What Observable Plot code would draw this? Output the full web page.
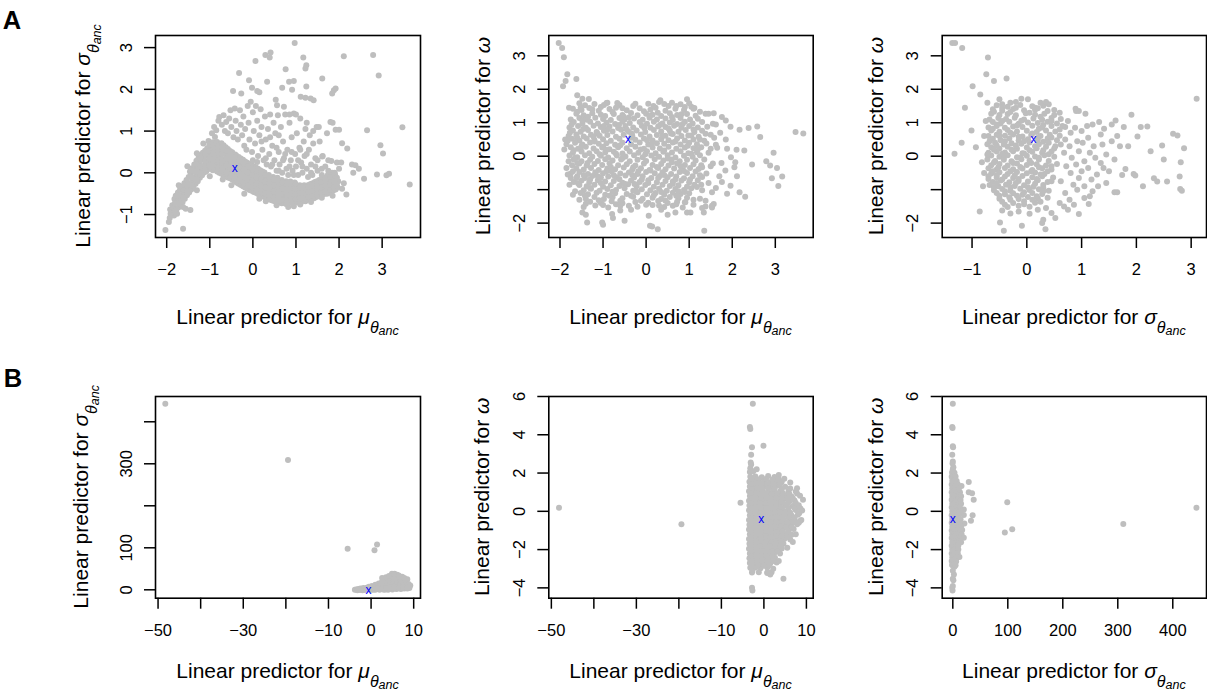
<!DOCTYPE html>
<html><head><meta charset="utf-8">
<script src="https://cdn.jsdelivr.net/npm/d3@7"></script>
<script src="https://cdn.jsdelivr.net/npm/@observablehq/plot@0.6"></script>
<style>
body{margin:0;background:#fff;overflow:hidden}
#wrap{position:relative;width:1207px;height:696px}
#wrap svg{position:absolute;left:0;top:0}
</style></head><body><div id="wrap"></div>
<script>
// ---------- DATA (flat x,y pairs) ----------
// Row A, panel 1: mu (x) vs sigma (y)
const A1_mu_sigma = [
-2.03,-1.37,-1.62,-1.34,-1.95,-1.18,-1.76,-0.98,-1.56,-0.86,-1.45,-0.89,
-1.93,-1.08,-1.92,-0.88,-1.88,-0.97,-1.87,-0.78,-1.83,-1.02,-1.84,-0.84,-1.82,-0.63,
-1.78,-0.91,-1.77,-0.71,-1.79,-0.55,-1.73,-0.83,-1.72,-0.64,-1.74,-0.47,
-1.68,-0.77,-1.67,-0.57,-1.69,-0.4,-1.63,-0.7,-1.62,-0.5,-1.64,-0.33,
-1.58,-0.62,-1.57,-0.44,-1.59,-0.25,-1.53,-0.54,-1.52,-0.37,-1.54,-0.17,
-1.48,-0.47,-1.47,-0.3,-1.49,-0.1,-1.46,0.03,-1.43,-0.4,-1.42,-0.22,-1.44,-0.02,-1.41,0.11,
-1.38,-0.33,-1.37,-0.14,-1.39,0.04,-1.36,0.2,-1.33,-0.26,-1.32,-0.07,-1.34,0.13,-1.31,0.29,
-1.28,-0.2,-1.27,0.0,-1.29,0.19,-1.26,0.36,-1.23,-0.12,-1.22,0.07,-1.24,0.26,-1.21,0.43,
-1.18,-0.06,-1.17,0.13,-1.19,0.31,-1.16,0.48,-1.13,0.01,-1.12,0.19,-1.14,0.36,-1.11,0.53,
-1.08,0.04,-1.07,0.23,-1.09,0.41,-1.06,0.59,-1.03,0.09,-1.02,0.26,-1.04,0.44,-1.01,0.61,-1.03,0.76,
-0.98,0.12,-0.97,0.29,-0.99,0.46,-0.96,0.63,-0.93,0.06,-0.92,0.23,-0.94,0.41,-0.91,0.57,-0.93,0.73,
-0.88,0.09,-0.87,0.31,-0.89,0.49,-0.86,0.67,-0.88,0.86,-0.83,0.03,-0.82,0.21,-0.84,0.38,-0.81,0.56,-0.83,0.74,
-0.78,0.0,-0.77,0.16,-0.79,0.33,-0.76,0.51,-0.78,0.69,-0.73,-0.02,-0.72,0.18,-0.74,0.36,-0.71,0.54,-0.73,0.71,
-0.68,-0.05,-0.67,0.13,-0.69,0.31,-0.66,0.48,-0.68,0.66,-0.63,-0.08,-0.62,0.09,-0.64,0.26,-0.61,0.43,-0.63,0.61,
-0.58,-0.11,-0.57,0.05,-0.59,0.22,-0.56,0.39,-0.58,0.57,-0.53,-0.13,-0.52,0.03,-0.54,0.19,-0.51,0.36,-0.53,0.52,
-0.48,-0.16,-0.47,0.0,-0.49,0.16,-0.46,0.32,-0.48,0.49,-0.43,-0.19,-0.42,-0.04,-0.43,0.11,-0.44,0.28,-0.41,0.44,
-0.38,-0.23,-0.37,-0.07,-0.39,0.08,-0.36,0.26,-0.38,0.41,-0.33,-0.26,-0.32,-0.1,-0.34,0.06,-0.31,0.22,-0.33,0.38,
-0.28,-0.29,-0.27,-0.14,-0.29,0.01,-0.26,0.18,-0.28,0.34,-0.23,-0.32,-0.22,-0.17,-0.24,-0.01,-0.21,0.15,-0.23,0.31,
-0.18,-0.35,-0.17,-0.2,-0.19,-0.04,-0.16,0.11,-0.18,0.27,-0.13,-0.38,-0.12,-0.22,-0.14,-0.07,-0.11,0.08,-0.13,0.24,
-0.08,-0.41,-0.07,-0.25,-0.09,-0.1,-0.06,0.05,-0.08,0.21,-0.03,-0.43,-0.02,-0.28,-0.04,-0.12,-0.01,0.03,-0.03,0.18,
0.02,-0.46,0.03,-0.3,0.01,-0.15,0.04,0.0,0.02,0.16,0.07,-0.48,0.08,-0.33,0.06,-0.18,0.09,-0.02,0.07,0.13,
0.12,-0.51,0.13,-0.35,0.11,-0.2,0.14,-0.05,0.12,0.1,0.17,-0.53,0.18,-0.38,0.16,-0.23,0.19,-0.07,0.17,0.06,
0.22,-0.56,0.23,-0.4,0.21,-0.25,0.24,-0.1,0.22,0.03,0.27,-0.58,0.28,-0.43,0.26,-0.28,0.29,-0.12,0.27,0.01,
0.32,-0.61,0.33,-0.45,0.31,-0.3,0.34,-0.15,0.37,-0.63,0.38,-0.48,0.36,-0.33,0.39,-0.18,0.37,-0.05,
0.42,-0.65,0.43,-0.5,0.41,-0.35,0.44,-0.2,0.47,-0.67,0.48,-0.52,0.46,-0.38,0.49,-0.23,0.47,-0.1,
0.52,-0.69,0.53,-0.54,0.51,-0.4,0.54,-0.25,0.57,-0.7,0.58,-0.55,0.56,-0.41,0.59,-0.27,0.57,-0.12,
0.62,-0.71,0.63,-0.57,0.61,-0.42,0.64,-0.28,0.67,-0.73,0.68,-0.58,0.66,-0.44,0.69,-0.3,0.67,-0.17,
0.72,-0.72,0.73,-0.58,0.71,-0.45,0.74,-0.32,0.77,-0.75,0.78,-0.6,0.76,-0.47,0.79,-0.33,0.77,-0.2,
0.82,-0.82,0.83,-0.61,0.81,-0.47,0.84,-0.34,0.87,-0.71,0.88,-0.57,0.86,-0.43,0.89,-0.3,0.87,-0.21,
0.92,-0.73,0.93,-0.59,0.91,-0.45,0.94,-0.33,0.97,-0.7,0.98,-0.56,0.96,-0.44,0.99,-0.32,0.97,-0.23,
1.02,-0.71,1.03,-0.58,1.01,-0.46,1.04,-0.34,1.07,-0.68,1.08,-0.55,1.06,-0.42,1.09,-0.3,
1.12,-0.7,1.13,-0.58,1.11,-0.45,1.14,-0.35,1.17,-0.66,1.18,-0.54,1.16,-0.42,1.19,-0.3,
1.22,-0.68,1.23,-0.56,1.21,-0.44,1.24,-0.34,1.27,-0.64,1.28,-0.52,1.26,-0.4,1.29,-0.29,
1.32,-0.62,1.33,-0.5,1.31,-0.38,1.34,-0.27,1.37,-0.6,1.38,-0.48,1.36,-0.36,1.39,-0.25,
1.42,-0.61,1.43,-0.48,1.41,-0.35,1.44,-0.22,1.47,-0.58,1.48,-0.45,1.46,-0.32,1.49,-0.2,
1.52,-0.56,1.53,-0.42,1.51,-0.3,1.54,-0.17,1.57,-0.55,1.58,-0.42,1.56,-0.28,1.59,-0.15,
1.62,-0.52,1.63,-0.4,1.61,-0.26,1.64,-0.12,1.67,-0.5,1.68,-0.38,1.66,-0.24,
1.72,-0.5,1.73,-0.36,1.71,-0.2,1.74,-0.05,1.77,-0.48,1.78,-0.34,1.76,-0.18,
1.82,-0.46,1.83,-0.32,1.81,-0.15,1.84,0.0,1.87,-0.42,1.88,-0.28,1.86,-0.12,
1.92,-0.4,1.93,-0.22,1.91,-0.05,1.97,-0.35,1.98,-0.2,
-0.95,0.95,-0.9,1.1,-0.85,1.02,-0.8,1.25,-0.78,1.34,-0.72,1.15,-0.68,1.38,-0.65,1.0,-0.62,1.22,-0.58,0.95,
-0.55,1.3,-0.52,1.5,-0.5,1.1,-0.45,0.85,-0.42,1.54,-0.4,1.25,-0.38,1.0,-0.35,0.8,-0.3,1.5,-0.28,1.15,
-0.25,0.9,-0.22,1.35,-0.2,0.65,-0.18,1.05,-0.15,0.55,-0.12,1.6,-0.1,1.2,-0.08,0.8,-0.05,1.7,-0.02,0.5,
0.0,1.45,0.02,1.0,0.05,0.7,0.07,1.6,0.1,1.25,0.12,0.4,0.15,0.9,0.18,1.52,0.2,1.1,0.22,0.55,0.25,0.3,
0.28,1.35,0.3,0.8,0.32,0.2,0.35,1.05,0.38,0.45,0.4,1.4,0.42,0.15,0.45,0.65,0.48,1.2,0.5,0.3,0.52,0.95,
0.55,0.05,0.58,1.38,0.6,0.5,0.62,0.2,0.65,1.1,0.68,0.0,0.7,0.75,0.72,0.35,0.75,1.4,0.78,0.1,0.8,0.55,
0.82,-0.05,0.85,1.2,0.88,0.3,0.9,0.85,0.92,0.05,0.95,1.42,0.98,0.45,1.0,0.15,1.02,0.95,1.05,-0.05,
1.08,0.6,1.1,1.3,1.12,0.25,1.15,0.0,1.18,0.75,1.2,0.4,1.22,1.05,1.25,0.1,1.28,-0.1,1.3,0.55,1.32,0.9,
1.35,0.2,1.38,-0.05,1.4,0.7,1.45,0.35,1.48,1.1,1.5,0.05,1.55,0.75,1.6,-0.05,1.62,0.4,1.68,0.15,1.72,0.95,
1.75,0.05,1.82,0.28,1.85,1.2,1.9,0.0,1.95,0.25,2.0,0.1,2.05,0.25,2.07,0.71,2.19,0.58,
0.3,0.35,0.45,0.2,0.6,0.05,0.7,0.3,0.85,0.15,0.95,-0.05,1.05,0.3,1.15,0.15,1.25,0.45,1.35,0.0,1.45,0.15,
0.55,0.6,0.75,0.45,0.9,0.5,1.1,0.55,0.2,0.75,0.4,0.85,0.6,0.9,1.5,0.3,1.6,0.1,1.75,0.3,
0.97,3.11,0.29,2.82,0.41,2.88,0.39,2.76,0.06,2.68,-0.32,2.39,-0.09,2.22,-0.46,1.96,-0.27,1.9,-0.02,2.04,
0.1,1.96,0.15,1.93,0.33,2.18,0.76,2.48,0.84,2.18,0.95,2.2,1.17,2.76,1.24,2.58,1.22,2.5,1.61,2.26,2.11,2.79,
2.79,2.82,2.92,2.33,1.24,2.07,0.91,1.99,0.68,2.04,1.88,1.98,1.92,2.02,1.84,1.9,1.11,1.82,1.22,1.8,1.34,1.78,
1.41,1.74,0.53,1.75,0.56,1.62,0.72,1.58,1.8,1.22,1.92,1.03,2.0,1.03,2.65,1.02,3.47,1.09,3.64,-0.28,
2.96,0.66,3.02,0.46,2.88,-0.04,3.1,-0.06,3.16,-0.02,2.58,-0.14,2.3,0.2,2.38,0.18,2.33,0.0,2.46,0.1,
2.17,-0.52,2.07,-0.38,2.11,-0.25,1.61,0.39,1.53,1.1,1.4,1.0,1.25,1.2,1.0,1.4,0.85,1.4
];
// Row A, panel 1: more points read inside and along the edges of the dense band
const A1_band_fill = [
-1.91,-0.98,-1.81,-0.93,-1.81,-0.73,-1.71,-0.73,-1.71,-0.55,-1.61,-0.6,-1.61,-0.41,-1.51,-0.45,-1.51,-0.27,
-1.41,-0.31,-1.41,-0.12,-1.41,0.05,-1.31,-0.16,-1.31,0.03,-1.31,0.21,-1.21,-0.02,-1.21,0.16,-1.21,0.34,
-1.11,0.1,-1.11,0.28,-1.11,0.45,-1.01,0.17,-1.01,0.35,-1.01,0.52,-1.01,0.68,-0.91,0.14,-0.91,0.32,-0.91,0.49,-0.91,0.65,
-0.81,0.12,-0.81,0.3,-0.81,0.47,-0.81,0.65,-0.71,0.08,-0.71,0.27,-0.71,0.45,-0.71,0.62,-0.61,0.0,-0.61,0.18,-0.61,0.35,-0.61,0.52,
-0.51,-0.05,-0.51,0.11,-0.51,0.28,-0.51,0.44,-0.41,-0.12,-0.41,0.2,-0.41,0.36,-0.31,-0.18,-0.31,-0.02,-0.31,0.14,-0.31,0.3,
-0.21,-0.25,-0.21,-0.09,-0.21,0.07,-0.21,0.23,-0.11,-0.3,-0.11,-0.15,-0.11,0.0,-0.11,0.16,-0.01,-0.36,-0.01,-0.2,-0.01,-0.05,-0.01,0.1,
0.09,-0.4,0.09,-0.25,0.09,-0.1,0.09,0.05,0.19,-0.45,0.19,-0.3,0.19,-0.15,0.19,0.0,0.29,-0.5,0.29,-0.35,0.29,-0.2,0.29,-0.05,
0.39,-0.55,0.39,-0.4,0.39,-0.25,0.39,-0.11,0.49,-0.6,0.49,-0.45,0.49,-0.3,0.49,-0.16,0.59,-0.62,0.59,-0.48,0.59,-0.34,0.59,-0.2,
0.69,-0.65,0.69,-0.51,0.69,-0.37,0.69,-0.23,0.79,-0.67,0.79,-0.53,0.79,-0.4,0.79,-0.26,0.89,-0.64,0.89,-0.5,0.89,-0.36,0.89,-0.25,
0.99,-0.63,0.99,-0.5,0.99,-0.38,0.99,-0.27,1.09,-0.62,1.09,-0.48,1.09,-0.36,1.19,-0.6,1.19,-0.48,1.19,-0.36,
1.29,-0.58,1.29,-0.46,1.29,-0.34,1.39,-0.54,1.39,-0.42,1.39,-0.3,1.49,-0.52,1.49,-0.38,1.49,-0.26,
1.59,-0.48,1.59,-0.35,1.59,-0.22,1.69,-0.44,1.69,-0.31,1.69,-0.15,1.79,-0.41,1.79,-0.26,1.79,-0.1,1.89,-0.35,1.89,-0.2,1.95,-0.3,1.95,-0.12,
0.3,-0.68,0.55,-0.78,1.1,-0.76,1.35,-0.7,-0.2,-0.5,-0.5,-0.3,-1.0,-0.08,-1.3,-0.42,-1.62,-0.82,-1.15,0.7,
-1.3,0.47,-1.52,0.16,0.0,0.3,0.1,0.26,-0.7,-0.16,1.6,-0.6,1.85,-0.55,0.15,-0.62,0.95,-0.8,-1.72,-0.3
];
// Row A, panel 2: mu (x) vs omega (y)
const A2_mu_omega = [
-1.55,1.58,-1.42,1.52,-1.2,1.56,-0.9,1.6,-0.62,1.53,-0.3,1.5,0.05,1.57,0.3,1.62,0.52,1.5,0.8,1.55,1.05,1.48,
-1.7,1.42,-1.5,1.38,-1.32,1.44,-1.1,1.36,-0.85,1.41,-0.7,1.45,-0.45,1.37,-0.15,1.43,0.1,1.39,0.22,1.45,0.45,1.36,0.68,1.42,0.88,1.38,1.12,1.44,
-1.62,1.27,-1.45,1.22,-1.25,1.28,-1.05,1.24,-0.95,1.2,-0.75,1.26,-0.55,1.23,-0.35,1.29,-0.2,1.22,0.0,1.27,0.15,1.24,0.35,1.2,0.55,1.28,0.72,1.23,0.95,1.26,1.15,1.21,1.38,1.27,
-1.75,1.1,-1.55,1.14,-1.38,1.09,-1.18,1.15,-1.0,1.11,-0.82,1.08,-0.62,1.14,-0.5,1.1,-0.28,1.13,-0.08,1.09,0.08,1.15,0.25,1.1,0.45,1.13,0.62,1.08,0.8,1.14,1.02,1.1,1.2,1.12,
-1.68,1.02,-1.48,0.97,-1.3,1.03,-1.12,0.98,-0.92,1.01,-0.72,0.96,-0.55,1.03,-0.38,0.99,-0.15,1.02,0.02,0.97,0.18,1.03,0.38,0.98,0.55,1.01,0.72,0.96,0.9,1.03,1.08,0.98,1.3,1.02,1.55,0.97,
-1.78,0.86,-1.58,0.9,-1.4,0.85,-1.22,0.91,-1.05,0.87,-0.85,0.89,-0.65,0.84,-0.48,0.9,-0.3,0.86,-0.1,0.91,0.1,0.85,0.28,0.89,0.45,0.87,0.65,0.91,0.82,0.85,1.0,0.9,1.2,0.86,1.42,0.88,
-1.7,0.77,-1.52,0.73,-1.35,0.78,-1.15,0.72,-0.98,0.76,-0.78,0.74,-0.58,0.79,-0.4,0.73,-0.22,0.77,-0.02,0.72,0.18,0.78,0.35,0.74,0.55,0.76,0.75,0.73,0.92,0.78,1.12,0.72,1.3,0.76,
-1.8,0.6,-1.62,0.65,-1.45,0.59,-1.28,0.64,-1.08,0.61,-0.9,0.63,-0.7,0.58,-0.52,0.64,-0.32,0.6,-0.12,0.65,0.08,0.59,0.25,0.63,0.45,0.61,0.62,0.66,0.82,0.6,1.05,0.62,1.22,0.58,1.5,0.64,
-1.72,0.52,-1.55,0.47,-1.38,0.53,-1.2,0.48,-1.0,0.51,-0.82,0.46,-0.62,0.52,-0.25,0.49,-0.05,0.53,0.15,0.47,0.35,0.51,0.52,0.48,0.72,0.53,0.9,0.47,1.1,0.5,1.35,0.46,
-1.85,0.36,-1.65,0.4,-1.48,0.35,-1.3,0.41,-1.1,0.37,-0.92,0.39,-0.72,0.34,-0.55,0.4,-0.35,0.36,-0.15,0.41,0.05,0.35,0.25,0.39,0.42,0.37,0.62,0.41,0.8,0.35,1.0,0.4,1.18,0.36,1.4,0.38,1.62,0.34,
-1.75,0.27,-1.58,0.22,-1.4,0.28,-1.22,0.23,-1.02,0.26,-0.85,0.21,-0.65,0.27,-0.45,0.24,-0.25,0.28,-0.05,0.22,0.15,0.26,0.32,0.23,0.52,0.28,0.7,0.22,0.9,0.26,1.1,0.24,1.28,0.27,
-1.7,0.1,-1.5,0.14,-1.32,0.09,-1.15,0.15,-0.95,0.11,-0.75,0.13,-0.55,0.08,-0.38,0.14,-0.18,0.1,0.02,0.15,0.22,0.09,0.4,0.13,0.6,0.11,0.8,0.15,0.98,0.09,1.18,0.12,1.45,0.1,
-1.78,0.02,-1.6,-0.03,-1.42,0.03,-1.25,-0.02,-1.05,0.01,-0.88,-0.04,-0.68,0.02,-0.48,-0.01,-0.28,0.03,-0.08,-0.03,0.12,0.02,0.3,-0.02,0.5,0.03,0.68,-0.04,0.88,0.01,1.08,-0.02,1.25,0.03,
-1.68,-0.1,-1.5,-0.15,-1.3,-0.11,-1.12,-0.14,-0.95,-0.09,-0.78,-0.13,-0.58,-0.1,-0.38,-0.15,-0.2,-0.11,0.0,-0.14,0.2,-0.09,0.4,-0.13,0.58,-0.1,0.78,-0.15,0.95,-0.11,1.15,-0.13,1.35,-0.1,
-1.72,-0.27,-1.55,-0.22,-1.38,-0.28,-1.2,-0.23,-1.02,-0.26,-0.85,-0.21,-0.65,-0.27,-0.45,-0.24,-0.25,-0.28,-0.05,-0.22,0.15,-0.26,0.35,-0.23,0.52,-0.28,0.72,-0.22,0.9,-0.26,1.1,-0.24,1.28,-0.27,1.55,-0.22,
-1.62,-0.36,-1.45,-0.4,-1.28,-0.35,-1.1,-0.41,-0.9,-0.37,-0.72,-0.39,-0.52,-0.34,-0.32,-0.4,-0.12,-0.36,0.08,-0.41,0.28,-0.35,0.45,-0.39,0.65,-0.37,0.85,-0.41,1.02,-0.35,1.22,-0.38,
-1.75,-0.52,-1.55,-0.47,-1.35,-0.53,-1.18,-0.48,-1.0,-0.51,-0.8,-0.46,-0.6,-0.52,-0.4,-0.49,-0.2,-0.53,0.0,-0.47,0.2,-0.51,0.38,-0.48,0.58,-0.53,0.78,-0.47,0.95,-0.5,1.15,-0.46,1.4,-0.52,
-1.6,-0.6,-1.42,-0.65,-1.25,-0.59,-1.05,-0.64,-0.88,-0.61,-0.68,-0.63,-0.48,-0.58,-0.28,-0.64,-0.08,-0.6,0.12,-0.65,0.32,-0.59,0.5,-0.63,0.7,-0.61,0.88,-0.66,1.08,-0.6,1.3,-0.62,
-1.68,-0.77,-1.5,-0.73,-1.32,-0.78,-1.12,-0.72,-0.95,-0.76,-0.75,-0.74,-0.55,-0.79,-0.35,-0.73,-0.15,-0.77,0.05,-0.72,0.25,-0.78,0.45,-0.74,0.62,-0.76,0.82,-0.73,1.0,-0.78,1.2,-0.72,
-1.55,-0.86,-1.38,-0.9,-1.2,-0.85,-1.0,-0.91,-0.82,-0.87,-0.62,-0.89,-0.42,-0.84,-0.22,-0.9,-0.02,-0.86,0.18,-0.91,0.38,-0.85,0.55,-0.89,0.75,-0.87,0.95,-0.91,1.12,-0.85,
-1.45,-1.02,-1.28,-0.97,-1.08,-1.03,-0.9,-0.98,-0.7,-1.01,-0.5,-0.96,-0.3,-1.03,-0.1,-0.99,0.1,-1.02,0.3,-0.97,0.48,-1.03,0.68,-0.98,0.88,-1.01,1.05,-0.96,1.3,-1.02,
-1.52,-1.1,-1.35,-1.14,-1.15,-1.09,-0.95,-1.15,-0.72,-1.11,-0.45,-1.13,-0.2,-1.08,0.02,-1.14,0.22,-1.1,0.42,-1.15,0.62,-1.09,0.8,-1.13,1.0,-1.11,
-1.4,-1.27,-1.2,-1.22,-0.98,-1.28,-0.78,-1.23,-0.55,-1.26,-0.3,-1.21,-0.08,-1.27,0.15,-1.24,0.35,-1.28,0.55,-1.22,0.75,-1.26,0.95,-1.24,1.25,-1.27,
-1.3,-1.36,-1.05,-1.4,-0.8,-1.35,-0.55,-1.41,-0.25,-1.37,0.05,-1.39,0.28,-1.34,0.5,-1.4,0.72,-1.36,0.9,-1.38,
-1.45,-1.52,-1.18,-1.47,-0.88,-1.53,-0.6,-1.48,-0.2,-1.51,0.15,-1.46,0.42,-1.52,0.62,-1.48,0.85,-1.53,1.38,-1.5,
-2.03,3.38,-1.95,3.23,-1.91,2.96,-1.83,2.45,-1.87,2.25,-1.93,2.09,-1.62,2.31,-1.6,1.82,-1.48,1.72,-1.33,1.71,
-1.79,1.45,-0.92,1.59,-0.67,1.59,0.33,1.67,0.95,1.7,0.6,1.6,1.1,1.42,1.45,1.27,1.57,1.28,1.76,1.17,1.85,1.07,
1.96,0.88,1.62,0.95,1.72,0.7,1.85,0.5,2.17,0.79,2.38,0.84,2.58,0.89,2.65,0.57,3.47,0.72,3.65,0.68,2.96,0.1,
2.79,-0.15,2.88,-0.28,3.04,-0.35,3.16,-0.61,2.92,-0.66,3.07,-0.89,2.46,-0.25,2.3,-1.21,2.17,-1.08,2.28,0.17,
2.1,0.19,1.88,0.22,1.97,-0.03,2.07,-0.18,2.05,-0.33,2.11,-0.6,1.96,-0.88,1.84,-0.43,1.76,-0.77,1.88,-1.12,
1.53,-1.08,1.57,-1.43,1.53,-1.53,1.7,-0.6,1.65,0.25,1.75,-0.2,1.62,-0.95,1.45,-0.8,1.5,-0.3,1.58,0.55,
-1.85,-0.35,-1.82,-0.55,-1.78,-0.85,-1.65,-1.05,-1.55,-1.3,-1.48,-1.68,-1.4,-1.75,-1.37,-1.98,-1.02,-1.98,
-1.0,-2.05,-0.79,-1.73,-0.77,-1.85,-0.5,-1.93,0.06,-1.78,0.09,-2.08,0.14,-2.1,0.27,-2.18,1.35,-2.23,0.68,-1.68,
0.91,-1.38,0.95,-1.68,1.03,-1.68,1.34,-1.68,1.38,-1.33,1.53,-1.48,-1.7,-1.15,-1.6,-0.2,-1.9,0.2,-1.88,0.5,
1.3,-1.55,-0.35,-1.6,-0.6,-1.62,0.35,-1.6,0.5,-1.75,1.1,-1.45
];
// Row A, panel 2: more points read inside the dense cloud
const A2_cloud_fill = [
-1.6,1.33,-1.35,1.18,-1.05,1.47,-0.78,1.32,-0.4,1.16,-0.05,1.34,0.27,1.3,0.6,1.17,0.9,1.47,1.25,1.33,
-1.73,0.95,-1.46,0.81,-1.13,0.68,-0.9,0.8,-0.63,0.93,-0.33,0.67,-0.04,0.84,0.33,0.94,0.58,0.68,0.85,0.96,1.1,0.8,1.38,0.67,
-1.82,0.46,-1.5,0.3,-1.2,0.44,-0.92,0.19,-0.6,0.33,-0.35,0.55,-0.13,0.2,0.15,0.42,0.42,0.17,0.68,0.44,0.97,0.31,1.25,0.5,1.5,0.22,
-1.65,-0.05,-1.36,-0.2,-1.08,0.06,-0.82,-0.32,-0.55,-0.06,-0.3,-0.33,-0.02,0.06,0.25,-0.32,0.5,-0.07,0.8,-0.3,1.05,0.07,1.3,-0.33,
-1.7,-0.45,-1.45,-0.56,-1.12,-0.6,-0.92,-0.45,-0.62,-0.69,-0.32,-0.56,-0.1,-0.7,0.1,-0.43,0.42,-0.56,0.68,-0.7,0.88,-0.44,1.25,-0.57,
-1.58,-0.81,-1.3,-0.95,-1.05,-0.8,-0.78,-1.06,-0.5,-0.82,-0.22,-1.06,0.05,-0.8,0.35,-1.07,0.62,-0.82,0.9,-1.07,1.18,-0.92,
-1.42,-1.18,-1.1,-1.32,-0.85,-1.18,-0.6,-1.33,-0.35,-1.18,-0.12,-1.33,0.18,-1.17,0.45,-1.33,0.7,-1.18,1.1,-1.3,
-1.4,-1.42,-1.0,-1.46,-0.7,-1.44,-0.4,-1.48,0.0,-1.45,0.3,-1.47,0.7,-1.44,
-1.52,1.45,-1.25,1.4,-0.98,1.53,-0.55,1.43,-0.25,1.57,0.17,1.5,0.42,1.56,0.7,1.5,1.0,1.58,
-1.77,0.7,-1.6,0.55,-1.68,0.18,-1.8,-0.15,-1.62,-0.65,-1.75,-0.65,
-1.48,1.07,-1.22,0.58,-0.98,0.9,-0.7,0.07,-0.45,0.8,-0.18,-0.45,0.08,1.2,0.38,0.6,0.6,-0.18,0.82,1.25,1.02,-0.7,1.2,0.2,
-1.3,-0.7,-1.0,0.28,-0.75,-0.57,-0.52,1.18,-0.27,-0.83,0.02,0.48,0.28,-0.65,0.52,0.83,0.75,-1.05,0.98,0.62,1.28,-0.85
];
// Row A, panel 3: sigma (x) vs omega (y)
const A3_sigma_omega = [
-0.55,1.52,-0.35,1.48,-0.12,1.53,0.1,1.49,0.3,1.51,
-0.62,1.4,-0.45,1.36,-0.25,1.41,-0.05,1.37,0.15,1.39,0.38,1.35,
-0.65,1.27,-0.5,1.23,-0.35,1.26,-0.2,1.22,-0.02,1.28,0.15,1.24,0.32,1.27,0.5,1.23,
-0.68,1.1,-0.52,1.14,-0.38,1.11,-0.22,1.15,-0.05,1.1,0.12,1.13,0.28,1.09,0.45,1.14,0.62,1.11,
-0.62,1.02,-0.48,0.98,-0.32,1.03,-0.15,0.97,0.02,1.01,0.2,0.99,0.38,1.03,0.55,0.98,
-0.7,0.86,-0.55,0.9,-0.4,0.85,-0.25,0.89,-0.08,0.87,0.1,0.91,0.28,0.86,0.45,0.9,0.7,0.87,
-0.65,0.77,-0.5,0.73,-0.35,0.78,-0.18,0.74,0.0,0.76,0.18,0.72,0.35,0.77,0.52,0.74,
-0.7,0.6,-0.55,0.64,-0.4,0.61,-0.25,0.65,-0.08,0.59,0.08,0.63,0.25,0.6,0.42,0.64,0.6,0.61,
-0.62,0.52,-0.48,0.48,-0.32,0.53,-0.15,0.47,0.02,0.51,0.2,0.49,0.38,0.53,0.55,0.48,
-0.72,0.36,-0.58,0.4,-0.42,0.35,-0.28,0.39,-0.1,0.37,0.05,0.41,0.22,0.36,0.4,0.4,0.62,0.35,
-0.65,0.27,-0.5,0.23,-0.35,0.28,-0.18,0.22,0.0,0.26,0.18,0.24,0.35,0.28,0.5,0.23,
-0.7,0.1,-0.55,0.14,-0.4,0.11,-0.25,0.15,-0.08,0.09,0.1,0.13,0.28,0.1,0.45,0.14,
-0.65,0.02,-0.5,-0.02,-0.35,0.03,-0.18,-0.03,0.0,0.01,0.15,-0.01,0.32,0.03,0.5,-0.02,
-0.72,-0.1,-0.58,-0.14,-0.42,-0.11,-0.28,-0.15,-0.1,-0.09,0.05,-0.13,0.22,-0.1,0.4,-0.14,
-0.65,-0.27,-0.5,-0.23,-0.35,-0.28,-0.18,-0.22,0.0,-0.26,0.18,-0.24,0.35,-0.28,0.55,-0.23,
-0.7,-0.36,-0.55,-0.4,-0.4,-0.35,-0.25,-0.39,-0.08,-0.37,0.1,-0.41,0.28,-0.36,0.45,-0.4,
-0.65,-0.52,-0.5,-0.48,-0.35,-0.53,-0.18,-0.47,0.0,-0.51,0.15,-0.49,0.32,-0.53,
-0.7,-0.6,-0.55,-0.64,-0.4,-0.61,-0.25,-0.65,-0.08,-0.59,0.1,-0.63,0.28,-0.6,0.48,-0.64,
-0.62,-0.77,-0.48,-0.73,-0.32,-0.78,-0.15,-0.74,0.02,-0.76,0.2,-0.72,0.38,-0.77,
-0.68,-0.86,-0.52,-0.9,-0.38,-0.85,-0.22,-0.89,-0.05,-0.87,0.12,-0.91,0.3,-0.86,
-0.6,-1.02,-0.45,-0.98,-0.3,-1.03,-0.12,-0.97,0.05,-1.01,0.22,-0.99,0.4,-1.03,
-0.55,-1.1,-0.4,-1.14,-0.25,-1.11,-0.08,-1.15,0.1,-1.1,0.28,-1.13,
-0.5,-1.27,-0.32,-1.23,-0.15,-1.28,0.02,-1.22,0.2,-1.26,0.38,-1.24,
-0.45,-1.36,-0.25,-1.4,-0.05,-1.35,0.15,-1.39,-0.35,-1.52,-0.15,-1.48,0.05,-1.51,
0.6,1.3,0.65,0.9,0.7,0.5,0.68,0.1,0.72,-0.3,0.62,-0.75,0.7,-1.1,0.6,-1.4,0.75,1.05,0.8,0.7,0.78,0.3,
0.82,-0.05,0.8,-0.5,0.85,-0.85,0.78,-1.3,0.9,1.35,0.88,0.85,0.92,0.45,0.95,0.15,0.9,-0.25,0.95,-0.65,
0.92,-1.0,0.89,1.42,0.95,1.35,1.0,0.75,1.02,0.4,1.05,-0.15,1.0,-0.45,1.05,-0.9,1.07,1.27,1.1,0.9,
1.12,0.55,1.15,0.1,1.12,-0.35,1.18,-0.7,1.13,-1.43,1.2,0.95,1.22,0.3,1.25,-0.05,1.28,-0.55,1.3,-0.9,
1.32,1.02,1.35,0.65,1.38,0.35,1.35,-0.2,1.41,0.82,1.45,0.05,1.5,-0.45,1.55,0.45,1.6,-0.1,1.62,1.07,
1.65,0.6,1.6,-1.08,1.65,-1.08,1.7,0.3,1.74,-0.56,1.77,0.87,1.8,-0.38,1.85,0.3,1.91,1.24,1.95,-0.53,
1.98,-0.58,2.02,0.59,2.08,0.87,2.2,0.89,2.26,0.15,2.32,-0.66,2.38,-0.76,2.47,0.32,2.5,-0.1,2.56,-0.76,
2.67,0.67,2.75,0.62,2.79,-0.61,2.8,-0.98,2.83,-1.03,2.81,-0.18,2.87,0.24,3.1,1.72,1.45,-0.8,1.55,0.95,
1.15,-1.2,0.95,-1.73,0.86,-1.45,0.75,-1.6,0.68,-1.5,0.52,-1.85,0.45,-1.7,0.35,-1.55,0.34,-2.18,0.28,-2.0,
0.3,-1.9,-0.09,-2.08,-0.3,-1.71,-0.42,-2.23,-0.49,-1.98,-0.86,-1.65,-0.15,-1.65,-0.45,-1.62,0.2,-1.6,
0.05,-1.72,1.05,-1.25,1.4,-0.35,1.2,-1.05,2.12,-0.9,
-1.36,3.38,-1.31,3.38,-1.18,3.23,-0.71,2.95,-0.74,2.45,-0.6,2.25,-0.37,2.32,-0.99,2.09,-0.85,1.84,
-1.13,1.45,-1.01,0.77,-1.19,0.4,-1.32,0.07,-0.93,0.27,-0.82,-0.18,-0.78,-0.5,-0.8,-0.9,-0.75,1.05,
-0.78,0.6,-0.72,1.6,-0.5,1.7,-0.3,1.6,-0.1,1.72,0.02,1.7,0.25,1.6,0.4,1.55,0.35,1.62,0.15,1.45,
-0.2,1.62,-0.45,1.55
];
// Row A, panel 3: more points read inside the dense core
const A3_core_fill = [
-0.6,1.33,-0.3,1.32,0.05,1.3,0.25,1.18,0.45,1.05,-0.45,1.05,-0.1,1.06,0.3,0.93,0.6,0.8,-0.62,0.82,
-0.3,0.7,0.1,0.68,0.45,0.56,-0.68,0.45,-0.4,0.44,-0.05,0.45,0.3,0.43,0.52,0.3,-0.6,0.19,-0.28,0.2,
0.05,0.18,0.4,0.06,-0.72,0.05,-0.42,-0.05,-0.12,-0.05,0.22,-0.05,-0.6,-0.19,-0.25,-0.2,0.08,-0.2,0.45,-0.3,
-0.62,-0.45,-0.3,-0.45,0.08,-0.45,0.38,-0.45,-0.7,-0.68,-0.45,-0.7,-0.15,-0.68,0.18,-0.68,0.45,-0.75,
-0.6,-0.93,-0.3,-0.93,0.02,-0.93,0.3,-0.94,-0.5,-1.18,-0.18,-1.18,0.18,-1.2,-0.4,-1.45,-0.05,-1.44,0.25,-1.36,
-0.45,1.45,-0.2,1.45,0.2,1.43,0.5,1.38,-0.55,0.95,-0.18,0.92,0.22,0.82,-0.5,0.6,-0.15,0.58,0.2,0.55,
-0.55,0.32,-0.2,0.32,0.15,0.3,-0.45,0.07,-0.05,0.08,0.3,0.18,-0.52,-0.33,-0.12,-0.32,0.22,-0.33,
-0.55,-0.57,-0.22,-0.57,0.25,-0.55,-0.55,-0.8,-0.2,-0.8,0.15,-0.82,-0.4,-1.05,-0.05,-1.08,0.3,-1.05,-0.3,-1.3,0.1,-1.3
];
// Row B, panel 1: mu (x) vs sigma (y)
const B1_mu_sigma = [
-48.3,443,-19.5,309,-5.5,98,1.4,108,0.8,94,
-3.8,0,-3.5,1,-3.2,-1,-3,2,-2.7,0,-2.5,3,-2.2,1,-2,-1,-1.8,4,-1.5,2,-1.2,0,-1,5,-0.8,2,-0.5,7,
-0.3,1,0,4,0.2,9,0.5,0,0.8,6,1,12,1.2,2,1.5,8,1.8,15,2,4,2.2,11,2.5,18,2.6,28,2.8,6,3,14,3.2,22,
3.4,1,3.5,9,3.8,17,4,26,4.2,4,4.4,12,4.6,20,4.9,38,4.8,30,5,7,5.2,15,5.4,24,5.6,33,5.8,3,6,11,
6.1,36,6.2,19,6.4,28,6.6,6,6.8,14,7,23,7.3,31,7.4,8,7.6,17,7.8,3,8,12,8.2,22,8.5,25,8.6,6,8.8,14,
9,4,9.2,10,5.5,38,6.5,34,3.5,30,4.2,33,7.8,28,8.2,6,6,2,7,2,5,1,4,0,3,0,2,0,1,0,0,0,-1,1,-2,0,
1.5,3,2.5,2,3.5,4,4.5,5,5.5,6,6.5,4,7.5,5,8.5,3,0.5,5,-0.5,3,-1.5,0,-2.5,0,-3,0
];
// Row B, panel 2: mu (x) vs omega (y)
const B2_mu_omega = [
-48.2,0.19,-19.4,-0.68,-5.5,0.45,
-3.2,1.8,-2,1.82,-0.5,1.78,1,1.84,2.5,1.79,
-3.4,1.55,-2.5,1.57,-1.2,1.53,0,1.56,1.5,1.52,3,1.58,4.2,1.54,
-3.3,1.3,-2.2,1.32,-1,1.28,0.3,1.31,1.8,1.27,3.2,1.33,5,1.29,
-3.5,1.05,-2.6,1.07,-1.5,1.03,-0.3,1.06,1,1.02,2.2,1.08,3.8,1.04,5.8,1.06,7.5,1.03,
-3.3,0.8,-2.3,0.82,-1.2,0.78,0,0.81,1.2,0.77,2.5,0.83,4,0.79,5.2,0.81,6.5,0.78,8.5,0.82,
-3.5,0.55,-2.5,0.57,-1.5,0.53,-0.3,0.56,0.8,0.52,2,0.58,3.2,0.54,4.5,0.56,6,0.53,7.2,0.57,
-3.4,0.3,-2.3,0.32,-1.2,0.28,0,0.31,1.2,0.27,2.4,0.33,3.6,0.29,5,0.31,6.8,0.28,8.2,0.32,
-3.5,0.05,-2.5,0.07,-1.4,0.03,-0.2,0.06,0.9,0.02,2.1,0.08,3.3,0.04,4.4,0.06,5.6,0.03,7.5,0.07,9,0.04,
-3.3,-0.2,-2.2,-0.18,-1.1,-0.22,0.1,-0.19,1.3,-0.23,2.5,-0.17,3.8,-0.21,5.2,-0.19,6.5,-0.22,8,-0.18,
-3.5,-0.45,-2.4,-0.43,-1.3,-0.47,-0.1,-0.44,1,-0.48,2.2,-0.42,3.4,-0.46,4.6,-0.44,6,-0.47,7.2,-0.43,8.8,-0.46,
-3.4,-0.7,-2.3,-0.68,-1.2,-0.72,0,-0.69,1.2,-0.73,2.4,-0.67,3.6,-0.71,5,-0.69,6.3,-0.72,7.8,-0.68,
-3.5,-0.95,-2.5,-0.93,-1.4,-0.97,-0.2,-0.94,0.9,-0.98,2.1,-0.92,3.2,-0.96,4.5,-0.94,5.8,-0.97,7,-0.93,
-3.3,-1.2,-2.2,-1.18,-1.1,-1.22,0.1,-1.19,1.3,-1.23,2.5,-1.17,3.8,-1.21,5.2,-1.19,6.5,-1.22,
-3.5,-1.45,-2.4,-1.43,-1.3,-1.47,-0.1,-1.44,1,-1.48,2.2,-1.42,3.4,-1.46,4.8,-1.44,6.2,-1.47,
-3.4,-1.7,-2.3,-1.68,-1.2,-1.72,0,-1.69,1.2,-1.73,2.4,-1.67,3.5,-1.71,4.6,-1.69,
-3.5,-1.95,-2.5,-1.93,-1.4,-1.97,-0.2,-1.94,0.9,-1.98,2,-1.92,3.2,-1.96,4.2,-1.94,
-3.3,-2.2,-2.2,-2.18,-1.1,-2.22,0.1,-2.19,1.3,-2.23,2.5,-2.17,3.8,-2.21,
-3.4,-2.45,-2.3,-2.43,-1.2,-2.47,0,-2.44,1.2,-2.48,2.6,-2.42,
-3.3,-2.7,-2.2,-2.68,-1,-2.72,0.3,-2.69,1.5,-2.73,3,-2.67,
-3.2,-2.95,-2,-2.93,-0.8,-2.97,0.8,-2.94,-2.8,-3.2,-1.2,-3.18,0.8,-3.22,1.8,-3.19,
-2.6,5.62,-3.3,4.4,-3.2,4.3,-2.8,3.35,-0.1,3.43,-3.0,2.95,-3.1,2.55,-3.0,2.45,-1.7,2.2,-3.2,2.25,
-3.3,2.05,-2.5,2.1,-2.8,-4.0,-2.7,-4.14,4.6,-3.53,0.8,-3.2,-2.7,-3.1,1.5,-3.3,2.2,-3.0,3.5,-2.6,
5.5,-1.9,6.8,-1.6,7.5,-1.2,8.5,-0.5,9.2,0.6,7.8,1.2,4.8,1.7,3.5,1.9,6.2,1.5
];
// Row B, panel 2: more points read inside the dense blob
const B2_blob_fill = [
-2.8,1.67,-1.5,1.67,0.5,1.69,2.0,1.66,3.5,1.68,-3.0,1.42,-1.8,1.44,-0.6,1.41,0.8,1.43,2.2,1.4,3.8,1.42,
-2.8,1.17,-1.6,1.19,-0.4,1.16,1.0,1.18,2.5,1.15,4.2,1.17,6.2,1.19,
-3.0,0.92,-1.8,0.94,-0.6,0.91,0.6,0.93,1.8,0.9,3.1,0.92,4.5,0.94,6.0,0.91,7.8,0.93,
-2.8,0.67,-1.8,0.69,-0.6,0.66,0.5,0.68,1.6,0.65,2.9,0.67,4.2,0.69,5.6,0.66,6.8,0.68,
-3.0,0.42,-1.9,0.44,-0.8,0.41,0.4,0.43,1.6,0.4,2.8,0.42,4.0,0.44,5.6,0.41,7.5,0.43,
-2.9,0.17,-1.8,0.19,-0.6,0.16,0.5,0.18,1.6,0.15,2.8,0.17,4.0,0.19,5.8,0.16,7.2,0.18,8.6,0.15,
-2.9,-0.08,-1.9,-0.06,-0.8,-0.09,0.4,-0.07,1.5,-0.1,2.7,-0.08,3.9,-0.06,5.0,-0.09,6.2,-0.07,8.3,-0.1,
-2.8,-0.33,-1.7,-0.31,-0.5,-0.34,0.6,-0.32,1.8,-0.35,3.0,-0.33,4.2,-0.31,5.8,-0.34,7.2,-0.32,
-3.0,-0.58,-1.8,-0.56,-0.7,-0.59,0.5,-0.57,1.7,-0.6,2.9,-0.58,4.2,-0.56,5.5,-0.59,6.8,-0.57,8.2,-0.6,
-2.9,-0.83,-1.8,-0.81,-0.6,-0.84,0.6,-0.82,1.7,-0.85,2.8,-0.83,4.0,-0.81,5.2,-0.84,6.5,-0.82,
-3.0,-1.08,-1.8,-1.06,-0.6,-1.09,0.6,-1.07,1.8,-1.1,3.0,-1.08,4.4,-1.06,5.8,-1.09,
-2.9,-1.33,-1.8,-1.31,-0.7,-1.34,0.5,-1.32,1.6,-1.35,2.8,-1.33,4.2,-1.31,5.5,-1.34,
-3.0,-1.58,-1.8,-1.56,-0.6,-1.59,0.6,-1.57,1.8,-1.6,3.0,-1.58,4.0,-1.56,
-2.9,-1.83,-1.9,-1.81,-0.8,-1.84,0.4,-1.82,1.5,-1.85,2.6,-1.83,3.8,-1.81,
-3.0,-2.08,-1.7,-2.06,-0.5,-2.09,0.7,-2.07,2.0,-2.1,3.2,-2.08,
-2.9,-2.33,-1.8,-2.31,-0.6,-2.34,0.6,-2.32,1.9,-2.35,-2.8,-2.58,-1.6,-2.56,-0.4,-2.59,0.9,-2.57,2.2,-2.6,
-2.6,-2.83,-1.4,-2.81,0.0,-2.84,1.2,-2.82
];
// Row B, panel 3: sigma (x) vs omega (y)
const B3_sigma_omega = [
443,0.19,310,-0.66,99,0.47,94.6,-1.11,108,-0.94,29,1.53,15.8,1.32,29,1.0,35,0.95,38,0.61,
20,0.09,20,-0.19,36,-0.2,33,-0.49,21,-0.64,
0,5.62,-1,4.4,-0.5,4.35,0,3.4,0.5,3.35,-1,2.95,0,2.6,-0.5,2.5,1,2.3,0,2.2,-1,2.05,
-1,-4.0,-0.5,-4.14,0,-3.9,1,-3.6,0,-3.53,2,-3.3,0,-3.1,3,-2.9,-1,-2.8,
-1,2.0,3,2.02,-2,1.8,2,1.78,5,1.82,-1,1.6,3,1.62,7,1.58,-2,1.4,2,1.42,6,1.38,9,1.41,
-1,1.2,3,1.18,7,1.22,11,1.19,-2,1.0,2,1.02,6,0.98,10,1.01,13,0.99,
-1,0.8,3,0.82,7,0.78,11,0.81,15,0.79,-2,0.6,2,0.62,6,0.58,10,0.61,14,0.59,
-1,0.4,3,0.42,7,0.38,11,0.41,15,0.39,-2,0.2,2,0.22,6,0.18,10,0.21,13,0.19,
-1,0.0,3,0.02,7,-0.02,11,0.01,14,-0.01,-2,-0.2,2,-0.18,6,-0.22,10,-0.19,
-1,-0.4,3,-0.38,7,-0.42,11,-0.39,14,-0.41,-2,-0.6,2,-0.58,6,-0.62,10,-0.59,13,-0.61,
-1,-0.8,3,-0.78,7,-0.82,11,-0.79,15,-0.81,-2,-1.0,2,-0.98,6,-1.02,10,-0.99,14,-1.01,17,-0.98,
-1,-1.2,3,-1.18,7,-1.22,11,-1.19,16,-1.21,-2,-1.4,2,-1.38,6,-1.42,10,-1.39,14,-1.41,20,-1.38,
-1,-1.6,3,-1.58,7,-1.62,11,-1.59,15,-1.61,-2,-1.8,2,-1.78,6,-1.82,10,-1.79,
-1,-2.0,3,-1.98,7,-2.02,10,-1.99,-2,-2.2,2,-2.18,6,-2.22,9,-2.19,
-1,-2.4,3,-2.38,7,-2.42,12,-2.39,-2,-2.6,2,-2.58,6,-2.62,-1,-2.8,3,-2.78,5,-2.82
];
// Highlighted (blue "x") estimates
const A_best = {mu: -0.42, sigma: 0.12, omega: 0.52};
const B_best = {mu: -0.6, sigma: 0.0, omega: -0.42};
// Tick values and which of them carry a printed label
const ticksA_mu = [-2, -1, 0, 1, 2, 3];
const ticksA_sigmaY = [-1, 0, 1, 2, 3];
const ticksA_sigmaX = [-1, 0, 1, 2, 3];
const ticksA_omega = [-2, -1, 0, 1, 2, 3];
const labelsA_omega = [-2, 0, 1, 2, 3];
const ticksB_mu = [-50, -40, -30, -20, -10, 0, 10];
const labelsB_mu = [-50, -30, -10, 0, 10];
const ticksB_sigmaY = [0, 100, 200, 300, 400];
const labelsB_sigmaY = [0, 100, 300];
const ticksB_sigmaX = [0, 100, 200, 300, 400];
const ticksB_omega = [-4, -2, 0, 2, 4, 6];

// ---------- DRAWING ----------
const FONT = '"Liberation Sans", Arial, Helvetica, sans-serif';
const GRAY = "#BEBEBE", BLUE = "#0000FF";
const W = 1207, H = 696;
const pairs = a => { const r = []; for (let i = 0; i < a.length; i += 2) r.push([a[i], a[i + 1]]); return r; };
const minus = d => d < 0 ? "\u2212" + Math.abs(d) : String(d);
const MU = ["\u03bc", "\u03b8", "anc"], SIG = ["\u03c3", "\u03b8", "anc"], OM = ["\u03c9"];

const colL = [155, 548.3, 941.7], colR = [420, 812.7, 1206];
const rowT = [35, 396], rowB = [237, 597.7];
const xTitleY = [324, 678], yTitleX = [[90, 490, 883], [88, 489, 883]];

const panels = [
  {r:0,c:0,data:A1_mu_sigma.concat(A1_band_fill),best:[A_best.mu,A_best.sigma],xd:[-2.26,3.89],yd:[-1.55,3.29],xt:ticksA_mu,xl:ticksA_mu,yt:ticksA_sigmaY,yl:ticksA_sigmaY,xn:MU,yn:SIG},
  {r:0,c:1,data:A2_mu_omega.concat(A2_cloud_fill),best:[A_best.mu,A_best.omega],xd:[-2.26,3.88],yd:[-2.43,3.607],xt:ticksA_mu,xl:ticksA_mu,yt:ticksA_omega,yl:labelsA_omega,xn:MU,yn:OM},
  {r:0,c:2,data:A3_sigma_omega.concat(A3_core_fill),best:[A_best.sigma,A_best.omega],xd:[-1.545,3.28],yd:[-2.43,3.607],xt:ticksA_sigmaX,xl:ticksA_sigmaX,yt:ticksA_omega,yl:labelsA_omega,xn:SIG,yn:OM},
  {r:1,c:0,data:B1_mu_sigma,best:[B_best.mu,B_best.sigma],xd:[-50.6,11.6],yd:[-20,460.2],xt:ticksB_mu,xl:labelsB_mu,yt:ticksB_sigmaY,yl:labelsB_sigmaY,xn:MU,yn:SIG},
  {r:1,c:1,data:B2_mu_omega.concat(B2_blob_fill),best:[B_best.mu,B_best.omega],xd:[-50.6,11.6],yd:[-4.54,6.0],xt:ticksB_mu,xl:labelsB_mu,yt:ticksB_omega,yl:ticksB_omega,xn:MU,yn:OM},
  {r:1,c:2,data:B3_sigma_omega,best:[B_best.sigma,B_best.omega],xd:[-19.3,461.3],yd:[-4.54,6.0],xt:ticksB_sigmaX,xl:ticksB_sigmaX,yt:ticksB_omega,yl:ticksB_omega,xn:SIG,yn:OM}
];

function addTitle(svg, x, y, rot, parts) {
  const t = d3.select(svg).append("text")
    .attr("font-family", FONT).attr("font-size", 21).attr("fill", "black")
    .attr("text-anchor", "middle")
    .attr("transform", `translate(${x},${y}) rotate(${rot})`)
    .style("white-space", "pre");
  t.append("tspan").text("Linear predictor for ");
  t.append("tspan").attr("font-style", "italic").text(parts[0]);
  if (parts.length > 1) {
    t.append("tspan").attr("font-style", "italic").attr("font-size", 16).attr("dy", 9).text(parts[1]);
    t.append("tspan").attr("font-style", "italic").attr("font-size", 12.5).attr("dy", 1.5).text(parts[2]);
  }
}

const wrap = document.getElementById("wrap");
panels.forEach((p, i) => {
  const L = colL[p.c], R = colR[p.c], T = rowT[p.r], B = rowB[p.r];
  const svg = Plot.plot({
    width: W, height: H,
    marginLeft: L, marginRight: W - R, marginTop: T, marginBottom: H - B,
    style: {fontFamily: FONT, background: "transparent", overflow: "visible", color: "black"},
    x: {domain: p.xd}, y: {domain: p.yd},
    marks: [
      Plot.dot(pairs(p.data), {x: d => d[0], y: d => d[1], r: 3, fill: GRAY, stroke: "none"}),
      Plot.text([p.best], {x: d => d[0], y: d => d[1], text: () => "x", fill: BLUE, fontSize: 12}),
      Plot.frame({stroke: "black", strokeWidth: 1.6}),
      Plot.axisX({ticks: p.xt, tickSize: 11, tickPadding: 15, fontSize: 16.5, label: null,
        tickFormat: d => p.xl.includes(d) ? minus(d) : "", stroke: "black", strokeWidth: 1.5, fill: "black"}),
      Plot.axisY({ticks: p.yt, tickSize: 11, tickPadding: 13, tickRotate: -90, fontSize: 16.5, label: null,
        tickFormat: d => p.yl.includes(d) ? minus(d) : "", stroke: "black", strokeWidth: 1.5, fill: "black"})
    ]
  });
  wrap.appendChild(svg);
  addTitle(svg, (L + R) / 2, xTitleY[p.r], 0, p.xn);
  addTitle(svg, yTitleX[p.r][p.c], (T + B) / 2, -90, p.yn);
  if (i === 0) {
    d3.select(svg).append("text").attr("x", 12).attr("y", 29.3).attr("font-family", FONT)
      .attr("font-weight", "bold").attr("font-size", 25.5).attr("fill", "black").text("A");
    d3.select(svg).append("text").attr("x", 13).attr("y", 387.3).attr("font-family", FONT)
      .attr("font-weight", "bold").attr("font-size", 25.5).attr("fill", "black").text("B");
  }
});
</script></body></html>
